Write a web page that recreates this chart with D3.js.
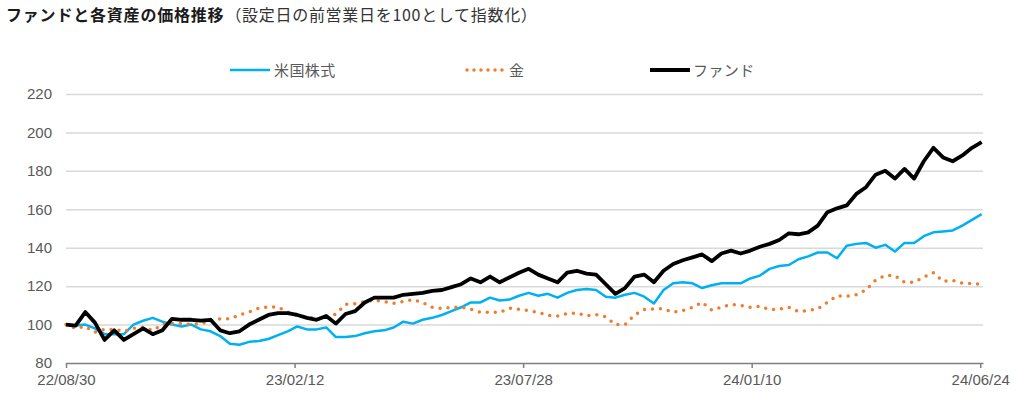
<!DOCTYPE html>
<html>
<head>
<meta charset="utf-8">
<script src="https://cdn.jsdelivr.net/npm/d3@7"></script>
<style>
  body { margin: 0; background: #fff; }
  svg { display: block; }
</style>
</head>
<body>
<div id="chart"></div>
<script>
// weekly closes from 22/08/30, index = 100 on the day before launch
const startDate = '22/08/30';
const tickLabels = ['22/08/30', '23/02/12', '23/07/28', '24/01/10', '24/06/24'];
const yTicks = [80, 100, 120, 140, 160, 180, 200, 220];
const seriesNames = ['米国株式', '金', 'ファンド'];

const usStocks = [
  100, 99.5, 100, 98, 95, 95, 95, 100, 102, 103.5,
  101.5, 100, 99, 100, 97.5, 96.5, 94, 90, 89.5, 91,
  91.5, 92.5, 94.5, 96.5, 99, 97.5, 97.5, 98.5, 93.5, 93.5,
  94, 95.5, 96.5, 97, 98.5, 101.5, 100.5, 102.5, 103.5, 105,
  107, 109, 111.5, 111.5, 114, 112.5, 113, 115, 116.5, 115,
  116, 114, 116.5, 118, 118.5, 118, 114.5, 114, 115.5, 116.5,
  114.5, 111, 118, 121.5, 122, 121.5, 119, 120.5, 121.5, 121.5,
  121.5, 124, 125.5, 129, 130.5, 131, 134, 135.5, 137.5, 137.5,
  134.5, 141, 142, 142.5, 140, 141.5, 138, 142.5, 142.5, 146,
  148, 148.5, 149, 151.5, 154.5, 157.5
];

const gold = [
  100, 98, 99, 96, 97.5, 97.5, 96.5, 98, 98.5, 97,
  100, 100.5, 100.5, 100, 100.5, 102, 103, 103, 105, 106.5,
  108.5, 109.3, 109, 106.5, 104.5, 104, 103, 103.5, 105.5, 110.5,
  110.8, 112, 112.7, 112, 111, 112, 113, 111.5, 109, 108.3,
  109, 109, 108, 106.4, 106.4, 106.4, 108.5, 108, 107.2, 106.4,
  104.8, 104.5, 105.8, 106, 104.5, 105.2, 104, 100, 100, 105,
  107.8, 108.2, 108.2, 106.4, 107.3, 109, 111.6, 107.5, 109, 110.5,
  110, 109, 109.5, 107.8, 108, 109, 106.8, 107.3, 108.2, 111.6,
  115, 114.7, 115.5, 118, 123.2, 125.5, 125.5, 122, 122, 124.7,
  127, 122.5, 123, 121.5, 121.3, 121
];

const fund = [
  100, 99.5, 106.5, 101, 92, 97, 92, 95, 98, 95,
  97, 103, 102.5, 102.5, 102, 102.5, 97, 95.5, 96.5, 100,
  102.5, 105, 106, 106, 105, 103.5, 102.5, 104.5, 100.5, 105.5,
  107, 111.5, 114, 114, 114, 115.5, 116, 116.5, 117.5, 118,
  119.5, 121, 124, 122, 125, 122, 124.5, 127, 129, 126,
  124, 122, 127, 128, 126.5, 126, 121, 116, 119, 125,
  126, 122, 128, 131.5, 133.5, 135, 136.5, 133, 137, 138.5,
  137, 138.5, 140.5, 142, 144, 147.5, 147, 148, 151.5, 158.5,
  160.5, 162, 168, 171.5, 178, 180, 176, 181, 176, 185,
  192, 187, 185, 188, 192, 195
];

const parse = d3.timeParse('%y/%m/%d');
const fmt = d3.timeFormat('%y/%m/%d');
const t0 = parse(startDate);
const dates = usStocks.map((_, i) => d3.timeDay.offset(t0, i * 7));

const width = 1024;
const height = 397;
const margin = { top: 94, right: 41, bottom: 34, left: 66 };
const innerW = width - margin.left - margin.right;
const innerH = height - margin.top - margin.bottom;

const svg = d3.select('#chart').append('svg')
  .attr('width', width)
  .attr('height', height);

// title
const title = svg.append('text')
  .attr('x', 6)
  .attr('y', 21)
  .attr('font-family', '"Noto Sans CJK JP", sans-serif')
  .attr('fill', '#1a1a1a');
title.append('tspan')
  .attr('font-size', 16)
  .attr('font-weight', 'bold')
  .attr('letter-spacing', 0.8)
  .text('ファンドと各資産の価格推移');
title.append('tspan')
  .attr('font-size', 16)
  .attr('letter-spacing', 0.7)
  .attr('dx', 1)
  .attr('fill', '#333')
  .text('（設定日の前営業日を100として指数化）');

const g = svg.append('g')
  .attr('transform', `translate(${margin.left}, ${margin.top})`);

const x = d3.scaleTime()
  .domain([t0, parse('24/06/26')])
  .range([0, innerW]);

const y = d3.scaleLinear()
  .domain([80, 220])
  .range([innerH, 0]);

// gridlines + y labels
const yAxis = g.append('g')
  .call(d3.axisLeft(y).tickValues(yTicks).tickSize(-innerW).tickPadding(14));
yAxis.select('.domain').remove();
yAxis.selectAll('.tick line')
  .attr('stroke', '#d9d9d9')
  .attr('stroke-width', 1.5)
  .filter(d => d === 80).remove();
yAxis.selectAll('.tick text')
  .attr('font-family', '"Liberation Sans", Arial, sans-serif')
  .attr('font-size', 15)
  .attr('fill', '#595959');

// x axis
const xAxis = g.append('g')
  .attr('transform', `translate(0, ${innerH})`)
  .call(d3.axisBottom(x)
    .tickValues(tickLabels.map(parse))
    .tickFormat(fmt)
    .tickSize(5)
    .tickSizeOuter(0)
    .tickPadding(6));
xAxis.select('.domain').attr('stroke', '#7f7f7f').attr('stroke-width', 1.5);
xAxis.selectAll('.tick line').attr('stroke', '#7f7f7f').attr('stroke-width', 1.5);
xAxis.selectAll('.tick text')
  .attr('font-family', '"Liberation Sans", Arial, sans-serif')
  .attr('font-size', 15)
  .attr('fill', '#595959');

const line = d3.line()
  .x((d, i) => x(dates[i]))
  .y(d => y(d));

const styles = [
  { data: usStocks, color: '#00b0f0', width: 2.5, dash: null, cap: 'butt' },
  { data: gold, color: '#ed7d31', width: 3.5, dash: '0 8', cap: 'round' },
  { data: fund, color: '#000000', width: 3.8, dash: null, cap: 'butt' },
];

styles.forEach(s => {
  g.append('path')
    .datum(s.data)
    .attr('fill', 'none')
    .attr('stroke', s.color)
    .attr('stroke-width', s.width)
    .attr('stroke-linejoin', 'round')
    .attr('stroke-linecap', s.cap)
    .attr('stroke-dasharray', s.dash)
    .attr('d', line);
});

// legend
const legendX = [230, 465, 650];
const legend = svg.append('g').attr('transform', 'translate(0, 70)');
styles.forEach((s, i) => {
  const item = legend.append('g').attr('transform', `translate(${legendX[i]}, 0)`);
  item.append('line')
    .attr('x1', i === 1 ? 2 : 0).attr('x2', i === 1 ? 38 : 40)
    .attr('stroke', s.color)
    .attr('stroke-width', i === 2 ? 4 : s.width)
    .attr('stroke-linecap', s.cap)
    .attr('stroke-dasharray', s.dash ? '0 7' : null);
  item.append('text')
    .attr('x', i === 2 ? 43 : 44)
    .attr('y', 5.5)
    .attr('font-family', '"Noto Sans CJK JP", sans-serif')
    .attr('font-size', 15)
    .attr('letter-spacing', 0.4)
    .attr('fill', '#595959')
    .text(seriesNames[i]);
});
</script>
</body>
</html>
